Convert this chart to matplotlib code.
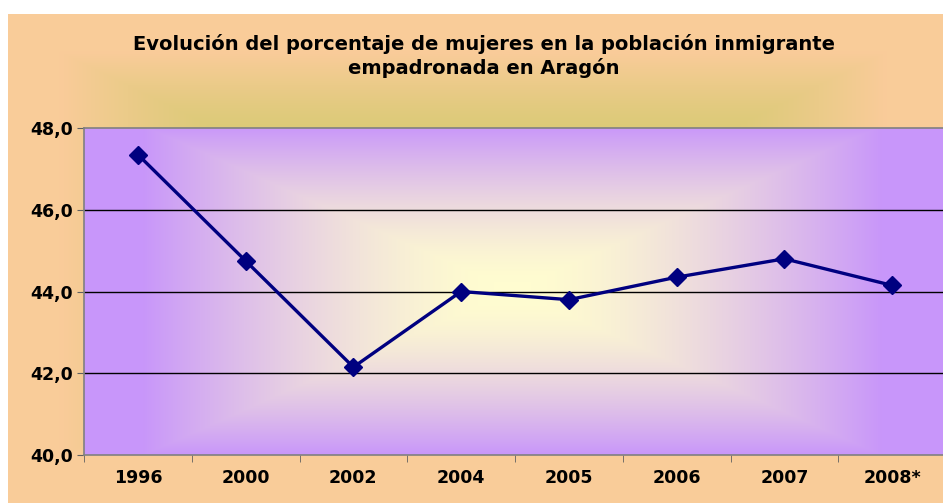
import numpy as np
import matplotlib
matplotlib.use("Agg")
import matplotlib.pyplot as plt
from matplotlib.ticker import FixedLocator, FuncFormatter

years = ['1996', '2000', '2002', '2004', '2005', '2006', '2007', '2008*']
pct = [47.35, 44.75, 42.15, 44.0, 43.8, 44.35, 44.8, 44.15]
yticks = [40, 42, 44, 46, 48]


def rect_gradient(w, h, cx, cy, hx, hy, c0, c1, d0, d1, p=1.0):
    # Excel-like "from center" gradient, rectangular shape
    xx, yy = np.meshgrid(np.arange(w), np.arange(h))
    d = np.maximum(np.abs(xx - cx) / hx, np.abs(yy - cy) / hy)
    t = np.clip((d - d0) / (d1 - d0), 0, 1)
    t = (t ** p)[..., None]
    c0 = np.array(c0) / 255.0
    c1 = np.array(c1) / 255.0
    return c0 * (1 - t) + c1 * t


W, H = 943, 503
fig = plt.figure(figsize=(W / 100, H / 100), dpi=100)
fig.patch.set_facecolor('white')

# chart area background
bx0, by0 = 8, 14
bg = fig.add_axes([bx0 / W, 0, 1 - bx0 / W, 1 - by0 / H])
img = rect_gradient(W - bx0, H - by0, 465, 240, 470, 230,
                    (220, 202, 120), (250, 204, 154), 0.55, 0.88, 1.2)
bg.imshow(img, aspect='auto', interpolation='bilinear')
bg.axis('off')

# plot area
px0, px1, py0, py1 = 84, 946, 128, 455
ax = fig.add_axes([px0 / W, 1 - py1 / H, (px1 - px0) / W, (py1 - py0) / H])
ax.set_zorder(2)
pw, ph = px1 - px0, py1 - py0
pimg = rect_gradient(pw, ph, 428, 162, 370, 165,
                     (255, 252, 208), (200, 150, 250), 0.05, 1.0, 1.5)
x = np.arange(len(years))
ax.imshow(pimg, extent=(-0.5, len(years) - 0.5, 40, 48), aspect='auto',
          interpolation='bilinear', zorder=0)

for v in [42, 44, 46]:
    ax.axhline(v, color='black', lw=1, zorder=1)

ax.plot(x, pct, color='#000080', lw=2.4, marker='D', ms=9, zorder=3)

ax.set_xlim(-0.5, len(years) - 0.5)
ax.set_ylim(40, 48)
ax.set_xticks(x)
ax.set_xticklabels(years)
ax.xaxis.set_minor_locator(FixedLocator(np.arange(-0.5, len(years), 1)))
ax.tick_params(axis='x', which='major', length=0, pad=10)
ax.tick_params(axis='x', which='minor', length=5, color='#606060', direction='out')
ax.set_yticks(yticks)
ax.yaxis.set_major_formatter(FuncFormatter(lambda v, p: f'{v:.1f}'.replace('.', ',')))
ax.tick_params(axis='y', length=5, color='#606060', pad=3)
for lab in ax.get_xticklabels() + ax.get_yticklabels():
    lab.set_fontweight('bold')
    lab.set_fontsize(12.5)
for s in ['left', 'bottom', 'top']:
    ax.spines[s].set_color('#808080')
    ax.spines[s].set_linewidth(1.2)
ax.spines['right'].set_visible(False)

fig.text(484 / W, 1 - 56 / H, 'Evolución del porcentaje de mujeres en la población inmigrante\nempadronada en Aragón',
         ha='center', va='center', fontsize=14.0, fontweight='bold', linespacing=1.3)

fig.savefig('out.png', dpi=100)
